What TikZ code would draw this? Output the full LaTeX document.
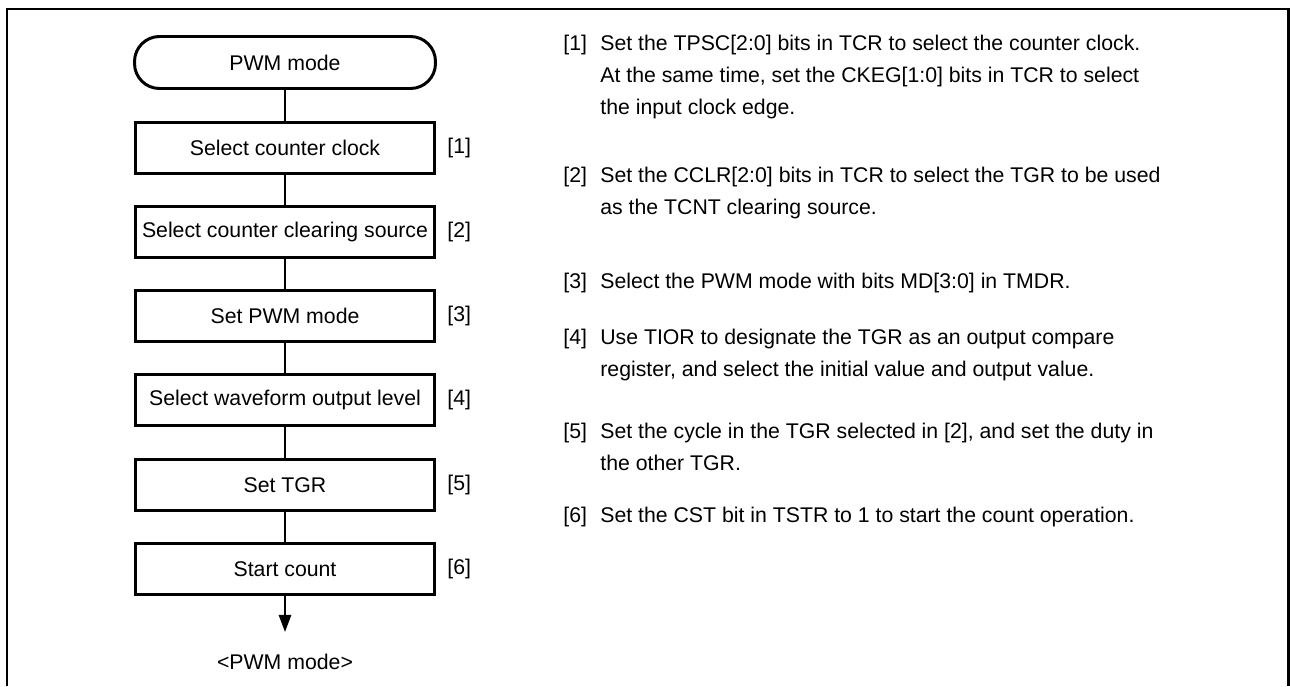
\documentclass[tikz,border=0pt]{standalone}
\usepackage{fontspec}
\setmainfont{Liberation Sans}
\usetikzlibrary{arrows.meta}

\begin{document}
\begin{tikzpicture}[x=0.02cm, y=-0.02cm,
  every node/.style={font=\fontsize{12.1pt}{18.3pt}\selectfont, inner sep=0pt},
  termbox/.style={rectangle, draw, line width=1.7pt, rounded corners=0.5cm, minimum width=6.02cm, minimum height=1.04cm},
  stepbox/.style={rectangle, draw, line width=1.7pt, minimum width=6cm, minimum height=1.02cm},
  steplabel/.style={anchor=west},
  link/.style={line width=0.75pt},
  notenum/.style={anchor=north west},
  notetext/.style={anchor=north west, align=left}]
  \useasboundingbox (0,0) rectangle (1290,686);

  % Frame
  \draw[line width=1.7pt] (7,686) -- (7,9) -- (1288,9) -- (1288,686);

  % Nodes
  \node (start) at (285,62.5) [termbox] {PWM mode};
  \node (clock) at (285,148) [stepbox] {Select counter clock};
  \node (clear) at (285,232) [stepbox] {Select counter clearing source};
  \node (pwm) at (285,316) [stepbox] {Set PWM mode};
  \node (level) at (285,400) [stepbox] {Select waveform output level};
  \node (tgr) at (285,485) [stepbox] {Set TGR};
  \node (count) at (285,569) [stepbox] {Start count};
  \node (finish) at (285,662) {<PWM mode>};

  \node (lab1) at (447,148) [steplabel] {[1]};
  \node (lab2) at (447,232) [steplabel] {[2]};
  \node (lab3) at (447,316) [steplabel] {[3]};
  \node (lab4) at (447,400) [steplabel] {[4]};
  \node (lab5) at (447,485) [steplabel] {[5]};
  \node (lab6) at (447,569) [steplabel] {[6]};

  % Edges
  \draw[link] (start) -- (clock);
  \draw[link] (clock) -- (clear);
  \draw[link] (clear) -- (pwm);
  \draw[link] (pwm) -- (level);
  \draw[link] (level) -- (tgr);
  \draw[link] (tgr) -- (count);
  \draw[link, -{Triangle[width=0.25cm, length=0.34cm]}, shorten >=0.44cm] (count) -- (finish);

  % Notes
  \node (num1) at (563,34.5) [notenum] {[1]};
  \node (note1) at (600,34.5) [notetext] {Set the TPSC[2:0] bits in TCR to select the counter clock.\\At the same time, set the CKEG[1:0] bits in TCR to select\\the input clock edge.};
  \node (num2) at (563,166.5) [notenum] {[2]};
  \node (note2) at (600,166.5) [notetext] {Set the CCLR[2:0] bits in TCR to select the TGR to be used\\as the TCNT clearing source.};
  \node (num3) at (563,272.5) [notenum] {[3]};
  \node (note3) at (600,272.5) [notetext] {Select the PWM mode with bits MD[3:0] in TMDR.};
  \node (num4) at (563,328.5) [notenum] {[4]};
  \node (note4) at (600,328.5) [notetext] {Use TIOR to designate the TGR as an output compare\\register, and select the initial value and output value.};
  \node (num5) at (563,422.5) [notenum] {[5]};
  \node (note5) at (600,422.5) [notetext] {Set the cycle in the TGR selected in [2], and set the duty in\\the other TGR.};
  \node (num6) at (563,507) [notenum] {[6]};
  \node (note6) at (600,507) [notetext] {Set the CST bit in TSTR to 1 to start the count operation.};
\end{tikzpicture}
\end{document}
